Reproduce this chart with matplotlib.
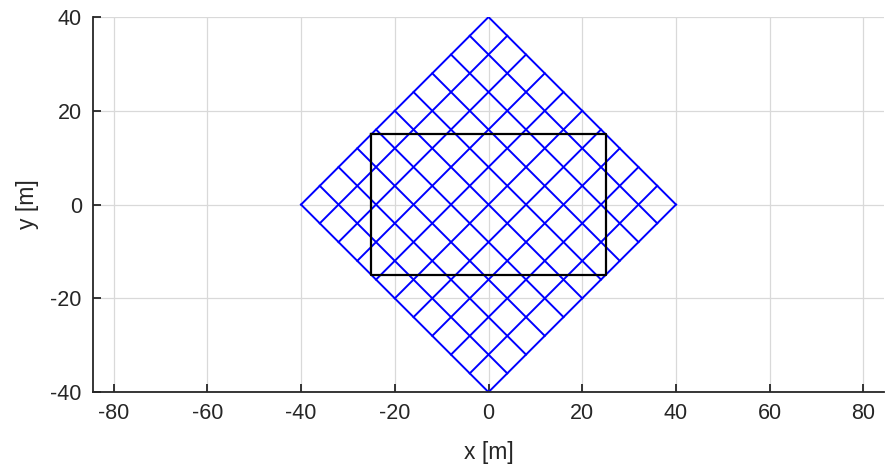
import numpy as np
import matplotlib.pyplot as plt

plt.rcParams['font.family'] = ['Liberation Sans', 'DejaVu Sans']
plt.rcParams['axes.unicode_minus'] = False

# rotated grid: half-diagonal of the diamond and line offsets (y - x = c and y + x = c)
half_diag = 40
offsets = [-40, -32, -24, -16, -8, 0, 8, 16, 24, 32, 40]

# black rectangle corners
rect_x = [-25, 25, 25, -25, -25]
rect_y = [15, 15, -15, -15, 15]

xticks = [-80, -60, -40, -20, 0, 20, 40, 60, 80]
yticks = [-40, -20, 0, 20, 40]

fig = plt.figure(figsize=(8.85, 4.73), dpi=100)
ax = fig.add_axes([0.105, 0.171, 0.894, 0.793])

u = np.array([-half_diag, half_diag])
for c in offsets:
    # lines y - x = c
    ax.plot((u - c) / 2, (u + c) / 2, color='blue', lw=1.4)
    # lines y + x = c
    ax.plot((c + u) / 2, (c - u) / 2, color='blue', lw=1.4)

ax.plot(rect_x, rect_y, color='black', lw=1.6)

ax.set_xlim(-84.4, 84.4)
ax.set_ylim(-40, 40)
ax.set_xticks(xticks)
ax.set_yticks(yticks)
ax.grid(True, color='#d9d9d9', lw=0.9)
ax.set_axisbelow(True)

for s in ['top', 'right']:
    ax.spines[s].set_visible(False)
for s in ['left', 'bottom']:
    ax.spines[s].set_color('#262626')
    ax.spines[s].set_linewidth(1.3)

ax.tick_params(direction='in', length=6, width=1.3, color='#262626',
               labelsize=15.5, labelcolor='#262626', pad=8)
ax.set_xlabel('x [m]', fontsize=16.5, color='#262626', labelpad=12)
ax.set_ylabel('y [m]', fontsize=16.5, color='#262626', labelpad=8)

fig.savefig('out.png', dpi=100)
